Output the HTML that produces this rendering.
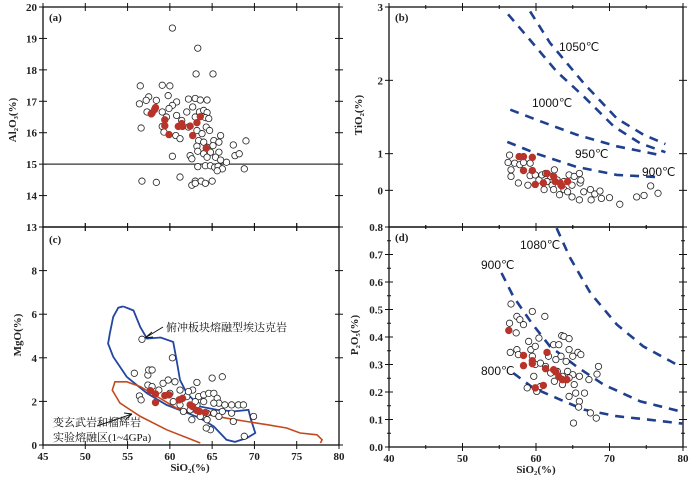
<!DOCTYPE html>
<html><head><meta charset="utf-8">
<style>
html,body{margin:0;padding:0;background:#fff;}
svg{display:block;}
.t{font-family:"Liberation Serif",serif;font-size:11px;font-weight:bold;fill:#222;}
.s{font-family:"Liberation Sans",sans-serif;font-size:12px;fill:#111;}
.cn{font-family:"Liberation Serif","Noto Serif CJK SC",serif;font-size:11px;fill:#111;}
</style></head><body>
<svg id="chart" width="700" height="481" viewBox="0 0 700 481"></svg>
<script>
// Panel (a) Al2O3 vs SiO2
const aOpenX=[60.3,63.3,63.1,65.1,56.5,59.1,60.0,57.5,59.8,58.4,56.4,57.2,60.8,62.2,63.0,63.6,64.4,60.3,59.9,62.7,59.1,60.8,57.3,57.9,62.0,63.5,64.0,64.4,56.6,59.6,61.4,63.0,64.2,64.6,59.1,59.3,60.7,61.2,62.2,63.2,63.8,64.3,64.7,66.0,63.4,64.0,65.2,65.8,63.2,64.4,65.1,67.5,69.0,63.3,64.0,64.8,65.8,60.3,62.4,67.7,68.2,62.6,64.4,65.4,66.0,66.7,63.3,64.2,64.8,65.3,65.7,66.2,65.6,68.8,56.7,58.4,61.2,63.0,63.7,64.2,65.0,62.6,63.0];
const aOpenY=[19.33,18.69,17.87,17.87,17.49,17.51,17.49,17.14,17.18,17.03,16.92,17.03,16.98,17.07,17.09,17.04,17.04,16.87,16.77,16.82,16.66,16.55,16.66,16.63,16.66,16.66,16.71,16.64,16.15,16.5,16.39,16.5,16.48,16.45,16.2,16.02,15.91,15.81,16.18,16.07,15.97,16.18,16.07,15.91,15.75,15.7,15.75,15.7,15.57,15.54,15.59,15.61,15.74,15.41,15.33,15.38,15.38,15.25,15.27,15.27,15.33,15.17,15.22,15.22,15.13,15.06,14.92,14.95,14.95,14.9,14.93,14.85,14.79,14.85,14.46,14.42,14.59,14.46,14.46,14.39,14.46,14.33,14.39];
const aRedX=[57.8,58.3,58.2,59.4,59.4,59.9,61.0,61.4,61.5,62.4,62.7,63.2,63.6,64.3];
const aRedY=[16.6,16.8,16.74,16.41,16.22,15.94,16.2,16.29,16.2,16.21,15.91,16.32,16.51,15.51];
const aRefLine=15;
const aYTicks=[13,14,15,16,17,18,19,20];
// Panel (b) TiO2 vs SiO2
const bOpenX=[56.4,56.2,56.6,56.6,57.6,57.1,57.8,58.3,59.2,59.5,59.2,59.9,58.9,60.4,60.8,61.3,62.0,62.5,61.5,62.2,62.9,63.4,63.8,64.5,65.2,65.9,64.9,63.8,64.3,64.9,65.9,66.5,67.4,68.0,68.7,67.5,68.9,70.0,71.4,73.7,74.7,75.6,76.6,61.1,62.4,63.2,66.0,66.1];
const bOpenY=[0.98,0.88,0.78,0.69,0.6,0.87,0.85,0.88,0.87,0.76,0.7,0.71,0.57,0.64,0.71,0.73,0.69,0.78,0.62,0.57,0.64,0.57,0.62,0.71,0.69,0.73,0.57,0.51,0.48,0.41,0.37,0.48,0.51,0.45,0.49,0.37,0.39,0.4,0.31,0.41,0.43,0.56,0.46,0.51,0.51,0.44,0.6,0.64];
const bRedX=[57.7,58.3,59.5,58.3,59.5,59.9,61.0,61.5,62.4,62.6,63.3,63.5,64.3];
const bRedY=[0.96,0.96,0.95,0.77,0.77,0.58,0.6,0.73,0.69,0.62,0.6,0.56,0.62];
const b1050X=[59.2,61.9,66.5,71,74.6,77.6], b1050Y=[2.94,2.51,1.96,1.48,1.26,1.13];
const b1000X=[56.2,59.2,62.8,66.5,70.6,74.2,77.6], b1000Y=[2.9,2.55,2.12,1.78,1.37,1.14,1.02];
const b950X=[56.5,60.1,65.5,71,76.9], b950Y=[1.6,1.46,1.26,1.1,0.98];
const b900X=[56.1,60.1,65.5,71,76.5], b900Y=[1.16,1.0,0.82,0.71,0.68];
const bYTicks=[1,2,3];
// Panel (c) MgO vs SiO2
const cOpenX=[55.8,57.4,57.5,57.9,60.3,56.7,57.4,57.9,59.2,59.8,60.6,63.2,65.0,66.2,56.4,56.6,58.7,60.0,60.4,61.2,62.0,62.7,63.4,64.0,64.6,65.2,65.6,65.8,65.2,64.0,63.2,62.4,63.6,64.4,65.2,65.8,66.2,64.4,64.8,64.3,67.3,67.3,67.5,68.1,68.7,69.9,68.8,61.6,62.6,63.0,66.5,61.2,62.2];
const cOpenY=[3.29,3.21,3.44,3.44,4.0,4.85,2.75,2.68,2.83,2.98,2.9,2.87,3.07,3.13,2.25,2.07,2.52,2.37,1.99,1.84,2.22,2.52,2.22,2.3,2.37,2.37,2.14,1.92,1.92,1.99,1.84,1.61,1.31,1.46,1.46,1.31,1.54,1.16,0.7,0.78,1.84,1.46,1.08,1.84,1.84,1.31,0.4,1.54,1.16,1.99,1.84,2.52,2.45];
const cRedX=[57.7,58.3,58.3,59.4,59.9,61.1,61.5,62.4,62.7,63.2,63.5,64.2];
const cRedY=[2.49,2.34,1.95,2.27,2.3,2.07,2.14,1.84,1.76,1.58,1.54,1.49];
const cBlueX=[54.5,55.7,56.5,57.3,58.9,60.4,60.8,61.2,62.0,63.6,65.6,67.6,69.3,69.6,70.1,69.1,67.7,66.7,65.2,63.6,61.6,59.6,57.3,54.9,53.3,52.7,52.9,53.3,53.9,54.5];
const cBlueY=[6.36,6.17,5.41,4.88,4.93,4.73,3.89,2.98,2.37,1.76,1.61,1.54,1.61,1.16,0.55,0.32,0.14,0.24,0.85,1.23,1.54,1.84,2.37,3.13,4.05,4.65,5.11,5.87,6.3,6.36];
const cRedFieldX=[63.6,59.6,56.5,54.1,53.2,53.5,54.9,56.5,58.5,60.8,63.6,66.7,69.1,71.5,73.8,75.4,77.4,78.0,77.8];
const cRedFieldY=[0.09,0.7,1.31,1.92,2.52,2.9,2.9,2.68,2.22,1.69,1.46,1.23,1.08,0.93,0.78,0.55,0.47,0.24,0.09];
const cYTicks=[0,2,4,6,8];
const acXTicks=[45,50,55,60,65,70,75,80];
// Panel (d) P2O5 vs SiO2
const dOpenX=[56.6,56.4,57.4,57.8,58.3,57.3,59.5,61.2,60.4,56.5,57.4,57.6,59.0,59.3,59.9,59.5,59.9,60.6,59.7,58.8,60.1,60.6,61.3,61.7,62.4,63.1,63.5,63.8,64.5,64.5,65.7,66.1,65.0,64.1,63.4,62.7,62.0,62.5,63.6,64.3,65.0,65.9,64.5,65.2,64.5,65.4,66.6,65.9,65.8,65.1,67.4,68.2,67.2,68.3,68.5,63.6,62.9];
const dOpenY=[0.52,0.45,0.475,0.463,0.445,0.415,0.493,0.475,0.396,0.344,0.354,0.336,0.384,0.354,0.366,0.33,0.3,0.305,0.257,0.215,0.202,0.22,0.293,0.33,0.372,0.372,0.405,0.402,0.394,0.354,0.344,0.336,0.33,0.311,0.33,0.318,0.269,0.239,0.257,0.275,0.263,0.257,0.251,0.227,0.184,0.196,0.196,0.166,0.145,0.087,0.124,0.105,0.245,0.265,0.293,0.227,0.275];
const dRedX=[56.3,58.3,58.3,59.5,59.5,59.9,61.0,61.5,61.3,62.4,62.7,63.1,63.6,64.2];
const dRedY=[0.424,0.333,0.296,0.314,0.303,0.215,0.224,0.344,0.285,0.281,0.273,0.255,0.245,0.245];
const d1080X=[62.8,64.6,67.4,71,74.6,79.6], d1080Y=[0.796,0.69,0.56,0.445,0.366,0.293];
const d900X=[55.3,56.9,59.4,61.9,65.5,69.2,74.2,79.6], d900Y=[0.633,0.548,0.451,0.366,0.293,0.227,0.166,0.13];
const d800X=[56.9,59.6,62.8,66.5,71,75.5,79.9], d800Y=[0.269,0.215,0.178,0.136,0.112,0.099,0.085];
const dYTicks=[0,0.1,0.2,0.3,0.4,0.5,0.6,0.7,0.8];
const bdXTicks=[40,50,60,70,80];

const NS='http://www.w3.org/2000/svg';
const svg=document.getElementById('chart');
function mk(tag,attrs,parent){const e=document.createElementNS(NS,tag);for(const k in attrs)e.setAttribute(k,attrs[k]);(parent||svg).appendChild(e);return e;}
function scale(d0,d1,p0,p1){return v=>p0+(v-d0)/(d1-d0)*(p1-p0);}

const P={
 a:{x0:43,x1:339,y0:7,y1:227,sx:scale(45,80,43,339),sy:scale(13,20,227,7)},
 c:{x0:43,x1:339,y0:227,y1:445,sx:scale(45,80,43,339),sy:scale(0,10,445,227)},
 b:{x0:389,x1:683,y0:7,y1:227,sx:scale(40,80,389,683),sy:scale(0,3,227,7)},
 d:{x0:389,x1:683,y0:227,y1:447,sx:scale(40,80,389,683),sy:scale(0,0.8,447,227)}
};

function frame(p,name){
 const r=mk('rect',{x:p.x0,y:p.y0,width:p.x1-p.x0,height:p.y1-p.y0,fill:'none',stroke:'#111','stroke-width':1.3});
 
 
}
function yTicks(p,ticks,labels,name,minor){
 const g=mk('g',{});
 
 
 ticks.forEach((v,i)=>{const y=p.sy(v);
  mk('line',{x1:p.x0-4,x2:p.x0+4,y1:y,y2:y,stroke:'#111','stroke-width':1},g);
  mk('line',{x1:p.x1-4,x2:p.x1+4,y1:y,y2:y,stroke:'#111','stroke-width':1},g);
  if(labels&&labels[i]!==null){const t=mk('text',{x:p.x0-6,y:y+4,'text-anchor':'end',class:'t'},g);t.textContent=labels[i];}
 });
 (minor||[]).forEach(v=>{const y=p.sy(v);
  mk('line',{x1:p.x0-2,x2:p.x0+2,y1:y,y2:y,stroke:'#111','stroke-width':1},g);
  mk('line',{x1:p.x1-2,x2:p.x1+2,y1:y,y2:y,stroke:'#111','stroke-width':1},g);});
}
function xTicks(p,ticks,labels,name,minor){
 const g=mk('g',{});
 
 
 ticks.forEach((v,i)=>{const x=p.sx(v);
  mk('line',{x1:x,x2:x,y1:p.y0-4,y2:p.y0+4,stroke:'#111','stroke-width':1},g);
  mk('line',{x1:x,x2:x,y1:p.y1-4,y2:p.y1+4,stroke:'#111','stroke-width':1},g);
  if(labels){const t=mk('text',{x:x,y:p.y1+15,'text-anchor':'middle',class:'t'},g);t.textContent=labels[i];}
 });
 (minor||[]).forEach(v=>{const x=p.sx(v);
  mk('line',{x1:x,x2:x,y1:p.y0-2,y2:p.y0+2,stroke:'#111','stroke-width':1},g);
  mk('line',{x1:x,x2:x,y1:p.y1-2,y2:p.y1+2,stroke:'#111','stroke-width':1},g);});
}
function pts(p,xs,ys,filled,name){
 const g=mk('g',{});
 
 
 xs.forEach((x,i)=>{mk('circle',{cx:p.sx(x),cy:p.sy(ys[i]),r:filled?3.3:3.2,fill:filled?'#b8342a':'#fff',stroke:filled?'#b8342a':'#222','stroke-width':0.8},g);});
}
function curve(p,xs,ys,name,opts){
 const d=xs.map((x,i)=>(i?'L':'M')+p.sx(x).toFixed(1)+','+p.sy(ys[i]).toFixed(1)).join(' ');
 const e=mk('path',Object.assign({d:d,fill:'none'},opts));
 
 
}
function label(x,y,txt,cls,name,extra){
 const t=mk('text',Object.assign({x:x,y:y,class:cls},extra||{}));
 t.textContent=txt;
 
 
 return t;
}
const dash={stroke:'#1f3f8f','stroke-width':2.6,'stroke-dasharray':'9,7'};

// Panel a
frame(P.a,'panel-a');
yTicks(P.a,aYTicks,aYTicks.map(String),'panel-a');
xTicks(P.a,acXTicks,null,'panel-a');
curve(P.a,[45,80],[aRefLine,aRefLine],'al2o3-15-reference-line',{stroke:'#333','stroke-width':1.2});
pts(P.a,aOpenX,aOpenY,false,'panel-a-open-points');
pts(P.a,aRedX,aRedY,true,'panel-a-red-points');
label(49,21,'(a)','t','panel-a-label');

// Panel c
frame(P.c,'panel-c');
yTicks(P.c,cYTicks,cYTicks.map(String),'panel-c');
xTicks(P.c,acXTicks,acXTicks.map(String),'panel-c');
curve(P.c,cBlueX,cBlueY,'subducted-slab-adakite-field',{stroke:'#2446a0','stroke-width':1.8});
curve(P.c,cRedFieldX,cRedFieldY,'metabasalt-eclogite-melt-field',{stroke:'#c44a1e','stroke-width':1.6});
pts(P.c,cOpenX,cOpenY,false,'panel-c-open-points');
pts(P.c,cRedX,cRedY,true,'panel-c-red-points');
label(49,243,'(c)','t','panel-c-label');
mk('path',{d:'M163,327 L145,338 M145,338 L152,332 M145,338 L153,337',stroke:'#111','stroke-width':1,fill:'none'});
mk('path',{d:'M97,426 L132,414 M132,414 L124,413 M132,414 L126,419',stroke:'#111','stroke-width':1,fill:'none'});
label(166,331,'俯冲板块熔融型埃达克岩','cn','adakite-field-label',{'font-size':'12'});
label(53,426,'变玄武岩和榴辉岩','cn','eclogite-field-label-1',{'font-size':'10'});
label(53,441,'实验熔融区(1~4GPa)','cn','eclogite-field-label-2',{'font-size':'10'});

// Panel b
frame(P.b,'panel-b');
yTicks(P.b,bYTicks,bYTicks.map(String),'panel-b');
yTicks(P.b,[0.5],['0'],'panel-b-extra');
xTicks(P.b,bdXTicks,null,'panel-b',[45,55,65,75]);
curve(P.b,b1050X,b1050Y,'isotherm-1050',dash);
curve(P.b,b1000X,b1000Y,'isotherm-1000',dash);
curve(P.b,b950X,b950Y,'isotherm-950',dash);
curve(P.b,b900X,b900Y,'isotherm-900',dash);
pts(P.b,bOpenX,bOpenY,false,'panel-b-open-points');
pts(P.b,bRedX,bRedY,true,'panel-b-red-points');
label(395,21,'(b)','t','panel-b-label');
label(559,51,'1050℃','s','label-1050');
label(532,107,'1000℃','s','label-1000');
label(575,158,'950℃','s','label-950');
label(642,176,'900℃','s','label-900');

// Panel d
frame(P.d,'panel-d');
yTicks(P.d,dYTicks,dYTicks.map(v=>v.toFixed(1)),'panel-d',[0.05,0.15,0.25,0.35,0.45,0.55,0.65,0.75]);
xTicks(P.d,bdXTicks,bdXTicks.map(String),'panel-d',[45,55,65,75]);
curve(P.d,d1080X,d1080Y,'isotherm-1080',dash);
curve(P.d,d900X,d900Y,'isotherm-900-p',dash);
curve(P.d,d800X,d800Y,'isotherm-800',dash);
pts(P.d,dOpenX,dOpenY,false,'panel-d-open-points');
pts(P.d,dRedX,dRedY,true,'panel-d-red-points');
label(395,241,'(d)','t','panel-d-label');
label(520,249,'1080℃','s','label-1080');
label(481,269,'900℃','s','label-900-p');
label(481,375,'800℃','s','label-800');

// axis titles
label(190,471,'SiO₂(%)','t','panel-c-x-title',{'text-anchor':'middle'});
label(536,473,'SiO₂(%)','t','panel-d-x-title',{'text-anchor':'middle'});
label(0,0,'Al₂O₃(%)','t','panel-a-y-title',{'text-anchor':'middle',transform:'translate(16,120) rotate(-90)'});
label(0,0,'MgO(%)','t','panel-c-y-title',{'text-anchor':'middle',transform:'translate(21,335) rotate(-90)'});
label(0,0,'TiO₂(%)','t','panel-b-y-title',{'text-anchor':'middle',transform:'translate(362,115) rotate(-90)'});
label(0,0,'P₂O₅(%)','t','panel-d-y-title',{'text-anchor':'middle',transform:'translate(358,335) rotate(-90)'});
</script>
</body></html>
